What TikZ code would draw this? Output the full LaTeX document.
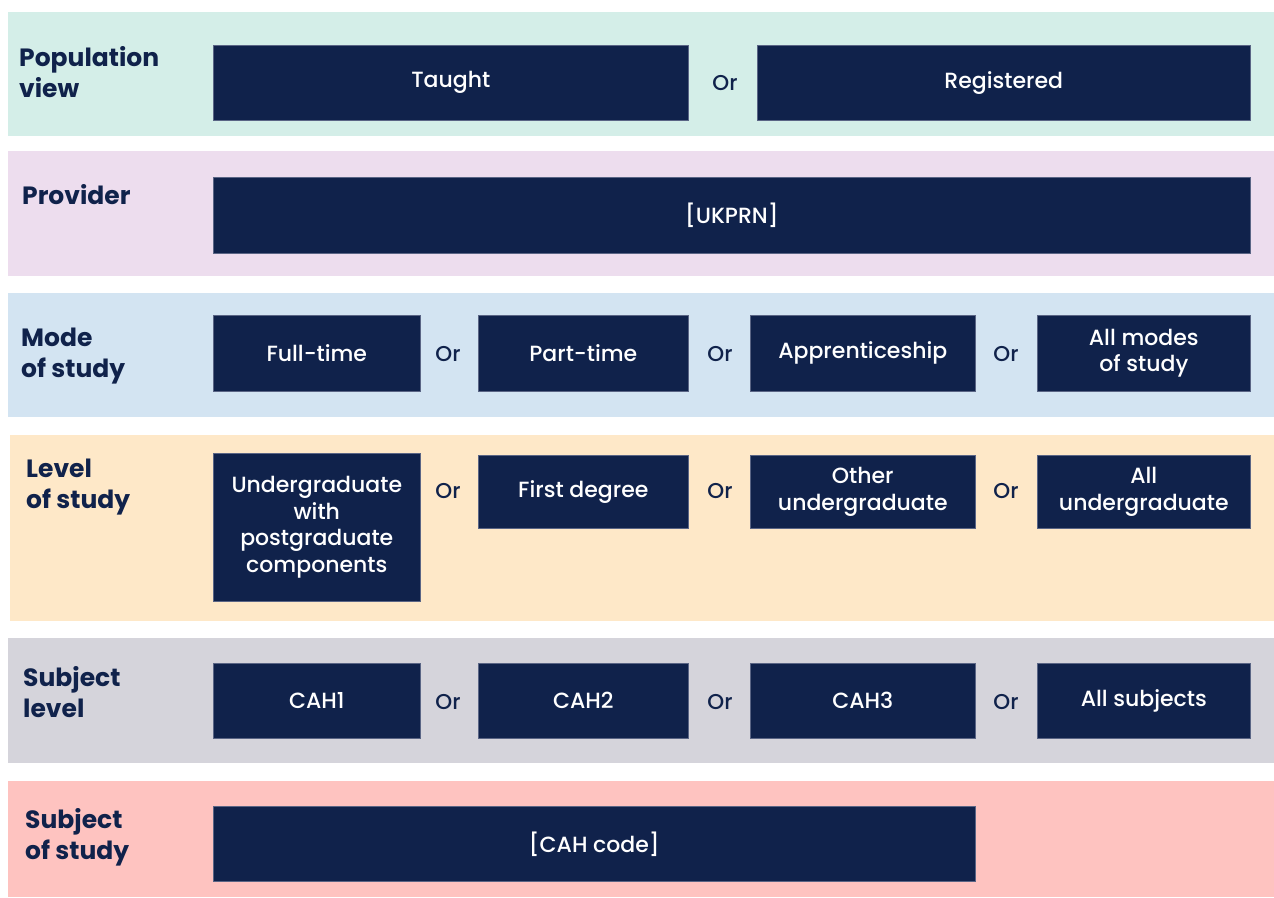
\documentclass[tikz,border=0pt]{standalone}
\usepackage{fontspec}
\setmainfont{Poppins}
\newfontfamily\medfont{Poppins Medium}
\begin{document}
\begin{tikzpicture}[x=1pt,y=-1pt,
  box/.style={fill=navy,draw=boxedge,line width=0.6pt,text=white,font=\medfont\fontsize{22}{26.5}\selectfont,align=center,anchor=north west,inner sep=0pt},
  orlbl/.style={text=navy,font=\medfont\fontsize{21.5}{26}\selectfont,inner sep=0pt},
  lbl/.style={text=navy,font=\fontsize{25}{31}\selectfont\bfseries,align=left,anchor=base west,inner sep=0pt}]
\definecolor{navy}{HTML}{10224B}
\definecolor{boxedge}{HTML}{5A6585}
\definecolor{cteal}{HTML}{D4EEE8}
\definecolor{cpink}{HTML}{EDDDEE}
\definecolor{cblue}{HTML}{D3E4F2}
\definecolor{cpeach}{HTML}{FEE8C8}
\definecolor{cgrey}{HTML}{D5D4DB}
\definecolor{cred}{HTML}{FEC3C0}
\useasboundingbox (0,0) rectangle (1274,897);
% bands
\fill[cteal] (8,12) rectangle (1274,136);
\fill[cpink] (8,151) rectangle (1274,276);
\fill[cblue] (8,293) rectangle (1274,417);
\fill[cpeach] (10,435) rectangle (1274,621);
\fill[cgrey] (8,638) rectangle (1274,763);
\fill[cred] (8,781) rectangle (1274,897);
% labels (base anchor = last line baseline)
\node[lbl] (l1) at (19,97) {Population\\view};
\node[lbl] (l2) at (22,204) {Provider};
\node[lbl] (l3) at (21,377) {Mode\\of study};
\node[lbl] (l4) at (26,508) {Level\\of study};
\node[lbl] (l5) at (23,717) {Subject\\level};
\node[lbl] (l6) at (25,859) {Subject\\of study};
% row 1
\node[box,minimum width=475pt,minimum height=75pt] (taught) at (213,45) {Taught};
\node[box,minimum width=493pt,minimum height=75pt] (reg) at (757,45) {Registered};
\node[orlbl] (o1) at (725,83) {Or};
% row 2
\node[box,minimum width=1037pt,minimum height=76pt] (ukprn) at (213,177) {[UKPRN]};
% row 3
\node[box,minimum width=207pt,minimum height=76pt] (ft) at (213,315) {Full-time};
\node[box,minimum width=210pt,minimum height=76pt] (pt) at (478,315) {Part-time};
\node[box,minimum width=225pt,minimum height=76pt] (ap) at (750,315) {Apprenticeship};
\node[box,minimum width=213pt,minimum height=76pt] (am) at (1037,315) {All modes\\of study};
\node[orlbl] (o31) at (448,354) {Or};
\node[orlbl] (o32) at (720,354) {Or};
\node[orlbl] (o33) at (1006,354) {Or};
% row 4
\node[box,minimum width=207pt,minimum height=148pt] (ugp) at (213,453) {Undergraduate\\with\\postgraduate\\components};
\node[box,minimum width=210pt,minimum height=73pt] (fd) at (478,455) {First degree};
\node[box,minimum width=225pt,minimum height=73pt] (ou) at (750,455) {Other\\undergraduate};
\node[box,minimum width=213pt,minimum height=73pt] (au) at (1037,455) {All\\undergraduate};
\node[orlbl] (o41) at (448,491) {Or};
\node[orlbl] (o42) at (720,491) {Or};
\node[orlbl] (o43) at (1006,491) {Or};
% row 5
\node[box,minimum width=207pt,minimum height=75pt] (c1) at (213,663) {CAH1};
\node[box,minimum width=210pt,minimum height=75pt] (c2) at (478,663) {CAH2};
\node[box,minimum width=225pt,minimum height=75pt] (c3) at (750,663) {CAH3};
\node[box,minimum width=213pt,minimum height=75pt] (as) at (1037,663) {All subjects};
\node[orlbl] (o51) at (448,702) {Or};
\node[orlbl] (o52) at (720,702) {Or};
\node[orlbl] (o53) at (1006,702) {Or};
% row 6
\node[box,minimum width=762pt,minimum height=75pt] (cc) at (213,806) {[CAH code]};
\end{tikzpicture}
\end{document}
